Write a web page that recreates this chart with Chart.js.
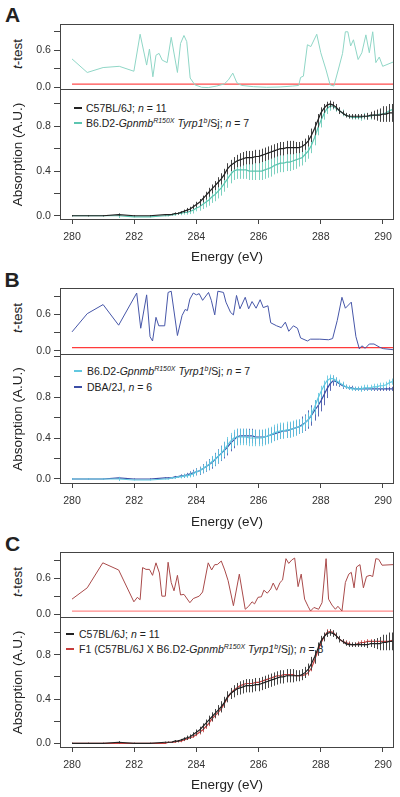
<!DOCTYPE html>
<html>
<head>
<meta charset="utf-8">
<script src="https://cdn.jsdelivr.net/npm/chart.js@4.4.1/dist/chart.umd.min.js"></script>
<style>
  body { margin: 0; background: #fff; }
  #fig { position: relative; width: 400px; height: 797px; overflow: hidden;
         font-family: "Liberation Sans", Arial, sans-serif; color: #222; }
  #fig canvas { position: absolute; left: 0; }
  .lab { position: absolute; font-weight: bold; font-size: 21px; line-height: 21px; }
  .ylab { position: absolute; font-size: 13.5px; white-space: nowrap;
          transform: translate(-50%, -50%) rotate(-90deg); }
  .leg { position: absolute; font-size: 10.5px; line-height: 12px; white-space: nowrap; }
  .leg .k { position: absolute; top: 5px; width: 8px; height: 2px; }
  .leg sup { font-size: 7px; font-style: italic; line-height: 0; vertical-align: 4px; }
</style>
</head>
<body>
<div id="fig">
  <div class="lab" style="left:5px; top:4px">A</div>
  <div class="lab" style="left:4.5px; top:269px">B</div>
  <div class="lab" style="left:5px; top:532.5px">C</div>

  <div class="ylab" style="left:17px; top:54px"><i>t</i>-test</div>
  <div class="ylab" style="left:17px; top:318px"><i>t</i>-test</div>
  <div class="ylab" style="left:17px; top:582px"><i>t</i>-test</div>

  <div class="leg" style="left:0; top:102px"><span class="k" style="left:74px; background:#222"></span><span style="position:absolute; left:86px">C57BL/6J; <i>n</i> = 11</span></div>
  <div class="leg" style="left:0; top:117px"><span class="k" style="left:74px; background:#5cc5b0"></span><span style="position:absolute; left:86px">B6.D2-<i>Gpnmb</i><sup>R150X</sup> <i>Tyrp1</i><sup>b</sup>/Sj; <i>n</i> = 7</span></div>

  <div class="leg" style="left:0; top:364.5px"><span class="k" style="left:74px; background:#62c8e0"></span><span style="position:absolute; left:87px">B6.D2-<i>Gpnmb</i><sup>R150X</sup> <i>Tyrp1</i><sup>b</sup>/Sj; <i>n</i> = 7</span></div>
  <div class="leg" style="left:0; top:380.5px"><span class="k" style="left:74px; background:#3c4ea6"></span><span style="position:absolute; left:87px">DBA/2J, <i>n</i> = 6</span></div>

  <div class="leg" style="left:0; top:627.5px"><span class="k" style="left:66px; background:#222"></span><span style="position:absolute; left:79px">C57BL/6J; <i>n</i> = 11</span></div>
  <div class="leg" style="left:0; top:642.5px"><span class="k" style="left:66px; background:#c63c3c"></span><span style="position:absolute; left:79px">F1 (C57BL/6J X B6.D2-<i>Gpnmb</i><sup>R150X</sup> <i>Tyrp1</i><sup>b</sup>/Sj); <i>n</i> = 8</span></div>
</div>

<script>
// energy grid of the spectra (eV)
const energy = [280, 280.5, 281, 281.5, 282, 282.5,
  283.0, 283.1, 283.2, 283.3, 283.4, 283.5, 283.6, 283.7, 283.8, 283.9,
  284.0, 284.1, 284.2, 284.3, 284.4, 284.5, 284.6, 284.7, 284.8, 284.9,
  285.0, 285.1, 285.2, 285.3, 285.4, 285.5, 285.6, 285.7, 285.8, 285.9,
  286.0, 286.1, 286.2, 286.3, 286.4, 286.5, 286.6, 286.7, 286.8, 286.9,
  287.0, 287.1, 287.2, 287.3, 287.4, 287.5, 287.6, 287.7, 287.8, 287.9,
  288.0, 288.1, 288.2, 288.3, 288.4, 288.5, 288.6, 288.7, 288.8, 288.9,
  289.0, 289.1, 289.2, 289.3, 289.4, 289.5, 289.6, 289.7, 289.8, 289.9,
  290.0, 290.1, 290.2, 290.3];

// C57BL/6J, n = 11
const b6Mean = [0.00, 0.00, 0.00, 0.01, 0.00, 0.00,
  0.01, 0.01, 0.01, 0.02, 0.02, 0.03, 0.04, 0.05, 0.06, 0.08,
  0.10, 0.12, 0.15, 0.18, 0.21, 0.24, 0.27, 0.30, 0.33, 0.37,
  0.42, 0.45, 0.47, 0.49, 0.50, 0.51, 0.52, 0.52, 0.52, 0.53,
  0.53, 0.54, 0.55, 0.56, 0.57, 0.58, 0.59, 0.60, 0.60, 0.61,
  0.61, 0.61, 0.61, 0.61, 0.62, 0.64, 0.67, 0.72, 0.78, 0.85,
  0.92, 0.96, 0.99, 1.00, 0.99, 0.97, 0.94, 0.92, 0.90, 0.89,
  0.89, 0.89, 0.89, 0.89, 0.89, 0.89, 0.90, 0.90, 0.90, 0.90,
  0.91, 0.91, 0.92, 0.92];
const b6Err = [0.005, 0.005, 0.005, 0.01, 0.005, 0.005,
  0.005, 0.005, 0.005, 0.01, 0.01, 0.01, 0.015, 0.02, 0.02, 0.02,
  0.025, 0.03, 0.03, 0.035, 0.04, 0.04, 0.04, 0.045, 0.05, 0.05,
  0.05, 0.05, 0.055, 0.055, 0.06, 0.06, 0.06, 0.06, 0.06, 0.06,
  0.06, 0.06, 0.06, 0.06, 0.06, 0.06, 0.06, 0.06, 0.06, 0.06,
  0.06, 0.06, 0.05, 0.05, 0.05, 0.05, 0.05, 0.06, 0.06, 0.06,
  0.05, 0.04, 0.03, 0.03, 0.03, 0.03, 0.03, 0.02, 0.02, 0.02,
  0.02, 0.02, 0.02, 0.02, 0.02, 0.03, 0.03, 0.04, 0.05, 0.06,
  0.07, 0.07, 0.08, 0.08];

// B6.D2-Gpnmb R150X Tyrp1 b /Sj, n = 7
const d2Mean = [0.00, 0.00, 0.00, 0.00, -0.01, -0.01,
  0.00, 0.00, 0.01, 0.01, 0.02, 0.02, 0.03, 0.03, 0.04, 0.05,
  0.07, 0.08, 0.10, 0.12, 0.14, 0.17, 0.19, 0.22, 0.25, 0.29,
  0.33, 0.37, 0.40, 0.41, 0.41, 0.41, 0.41, 0.40, 0.40, 0.40,
  0.40, 0.40, 0.41, 0.42, 0.43, 0.45, 0.46, 0.47, 0.47, 0.48,
  0.48, 0.49, 0.50, 0.51, 0.52, 0.55, 0.58, 0.63, 0.70, 0.78,
  0.85, 0.91, 0.96, 0.98, 0.98, 0.96, 0.94, 0.92, 0.90, 0.89,
  0.88, 0.88, 0.88, 0.88, 0.89, 0.89, 0.89, 0.90, 0.90, 0.91,
  0.91, 0.92, 0.94, 0.95];
const d2Err = [0.005, 0.005, 0.005, 0.02, 0.005, 0.005,
  0.005, 0.005, 0.01, 0.01, 0.01, 0.015, 0.02, 0.02, 0.025, 0.03,
  0.03, 0.035, 0.04, 0.045, 0.05, 0.055, 0.06, 0.065, 0.07, 0.075,
  0.08, 0.08, 0.08, 0.08, 0.08, 0.08, 0.08, 0.08, 0.08, 0.08,
  0.08, 0.08, 0.08, 0.08, 0.08, 0.08, 0.08, 0.08, 0.08, 0.08,
  0.08, 0.08, 0.08, 0.07, 0.07, 0.07, 0.07, 0.07, 0.07, 0.06,
  0.06, 0.05, 0.05, 0.04, 0.03, 0.03, 0.03, 0.03, 0.02, 0.02,
  0.02, 0.02, 0.02, 0.03, 0.03, 0.03, 0.03, 0.03, 0.03, 0.03,
  0.03, 0.03, 0.03, 0.03];

// DBA/2J, n = 6
const dbaMean = [0.00, 0.00, 0.00, 0.01, 0.00, 0.00,
  0.01, 0.01, 0.01, 0.02, 0.02, 0.03, 0.03, 0.04, 0.05, 0.06,
  0.07, 0.08, 0.10, 0.12, 0.14, 0.16, 0.19, 0.22, 0.25, 0.28,
  0.31, 0.35, 0.38, 0.41, 0.42, 0.42, 0.42, 0.42, 0.42, 0.41,
  0.41, 0.41, 0.41, 0.42, 0.43, 0.44, 0.45, 0.46, 0.47, 0.47,
  0.48, 0.49, 0.50, 0.51, 0.53, 0.55, 0.58, 0.62, 0.67, 0.71,
  0.76, 0.82, 0.88, 0.93, 0.96, 0.95, 0.93, 0.91, 0.90, 0.89,
  0.89, 0.88, 0.88, 0.88, 0.88, 0.88, 0.88, 0.88, 0.88, 0.88,
  0.88, 0.88, 0.88, 0.88];
const dbaErr = [0.005, 0.005, 0.005, 0.01, 0.005, 0.005,
  0.005, 0.005, 0.01, 0.01, 0.01, 0.015, 0.02, 0.02, 0.025, 0.03,
  0.035, 0.04, 0.045, 0.05, 0.055, 0.06, 0.065, 0.07, 0.075, 0.08,
  0.08, 0.08, 0.08, 0.08, 0.07, 0.07, 0.07, 0.07, 0.07, 0.07,
  0.07, 0.07, 0.07, 0.07, 0.07, 0.07, 0.07, 0.07, 0.07, 0.07,
  0.07, 0.07, 0.07, 0.07, 0.08, 0.08, 0.09, 0.10, 0.10, 0.10,
  0.10, 0.10, 0.09, 0.07, 0.05, 0.04, 0.03, 0.03, 0.02, 0.02,
  0.02, 0.02, 0.02, 0.02, 0.02, 0.02, 0.02, 0.02, 0.02, 0.02,
  0.02, 0.02, 0.02, 0.02];

// F1 (C57BL/6J X B6.D2), n = 8
const f1Mean = [0.00, 0.00, 0.00, 0.00, 0.00, 0.00,
  0.00, 0.01, 0.01, 0.01, 0.02, 0.02, 0.03, 0.04, 0.05, 0.06,
  0.08, 0.10, 0.12, 0.15, 0.18, 0.22, 0.25, 0.28, 0.31, 0.36,
  0.41, 0.45, 0.48, 0.50, 0.52, 0.53, 0.54, 0.54, 0.54, 0.55,
  0.55, 0.56, 0.57, 0.58, 0.59, 0.60, 0.61, 0.61, 0.62, 0.62,
  0.62, 0.62, 0.61, 0.61, 0.61, 0.62, 0.64, 0.68, 0.75, 0.83,
  0.90, 0.96, 1.00, 1.01, 1.00, 0.97, 0.94, 0.92, 0.91, 0.90,
  0.89, 0.89, 0.90, 0.91, 0.91, 0.92, 0.92, 0.92, 0.92, 0.92,
  0.92, 0.92, 0.92, 0.93];
const f1Err = [0.005, 0.005, 0.005, 0.005, 0.005, 0.005,
  0.005, 0.005, 0.005, 0.005, 0.01, 0.01, 0.01, 0.01, 0.01, 0.01,
  0.015, 0.02, 0.02, 0.02, 0.025, 0.025, 0.025, 0.03, 0.03, 0.03,
  0.03, 0.03, 0.03, 0.03, 0.03, 0.03, 0.03, 0.03, 0.03, 0.03,
  0.03, 0.03, 0.03, 0.03, 0.03, 0.03, 0.03, 0.03, 0.03, 0.03,
  0.03, 0.03, 0.03, 0.03, 0.03, 0.03, 0.03, 0.03, 0.03, 0.03,
  0.03, 0.03, 0.03, 0.02, 0.02, 0.02, 0.02, 0.02, 0.02, 0.02,
  0.02, 0.02, 0.02, 0.02, 0.02, 0.02, 0.02, 0.02, 0.02, 0.02,
  0.02, 0.02, 0.02, 0.02];

// t-test p values
const tA_x = [280.0, 280.49, 281.0, 281.52, 281.99, 282.19, 282.4, 282.49, 282.6, 282.7,
  282.8, 282.9, 283.06, 283.19, 283.39, 283.49, 283.6, 283.69, 283.8, 283.95,
  284.17, 284.38, 284.65, 284.9, 285.03, 285.17, 285.3, 285.45, 285.83, 286.26,
  286.69, 287.1, 287.29, 287.35, 287.44, 287.57, 287.68, 287.87, 288.0, 288.17,
  288.3, 288.42, 288.56, 288.7, 288.79, 288.87, 288.96, 289.05, 289.2, 289.32,
  289.45, 289.56, 289.67, 289.77, 289.88, 289.99, 290.33];
const tA_p = [0.46, 0.24, 0.32, 0.34, 0.26, 0.86, 0.36, 0.62, 0.17, 0.52,
  0.55, 0.44, 0.40, 0.81, 0.24, 0.71, 0.84, 0.74, 0.15, 0.04,
  0.00, -0.005, 0.02, 0.055, 0.12, 0.23, 0.075, 0.03, 0.01, 0.00,
  0.005, 0.02, 0.03, 0.16, 0.18, 0.69, 0.66, 0.86, 0.56, 0.28,
  0.04, 0.02, 0.28, 0.55, 0.90, 0.90, 0.67, 0.77, 0.45, 0.56,
  0.85, 0.56, 0.90, 0.40, 0.49, 0.34, 0.41];

const tB_x = [280.0, 280.49, 281.0, 281.5, 282.08, 282.21, 282.4, 282.51, 282.59, 282.7,
  282.79, 282.98, 283.09, 283.19, 283.39, 283.54, 283.64, 283.71, 283.79, 283.9,
  284.0, 284.09, 284.2, 284.39, 284.48, 284.59, 284.69, 284.87, 284.95, 285.1,
  285.19, 285.29, 285.4, 285.57, 285.68, 285.79, 285.92, 286.05, 286.15, 286.3,
  286.39, 286.58, 286.73, 286.86, 286.97, 287.12, 287.25, 287.35, 287.57, 287.67,
  287.97, 288.25, 288.38, 288.53, 288.68, 288.79, 288.98, 289.13, 289.24, 289.32,
  289.43, 289.56, 289.71, 289.9, 290.01, 290.33];
const tB_p = [0.31, 0.61, 0.76, 0.42, 0.95, 0.37, 0.92, 0.23, 0.16, 0.55,
  0.41, 0.41, 0.96, 0.98, 0.25, 0.58, 0.68, 0.66, 0.85, 0.95,
  0.92, 0.94, 0.83, 0.96, 0.83, 0.59, 0.98, 0.96, 0.80, 0.63,
  0.59, 0.91, 0.69, 0.88, 0.69, 0.81, 0.70, 0.84, 0.71, 0.74,
  0.46, 0.41, 0.38, 0.47, 0.32, 0.41, 0.37, 0.21, 0.16, 0.19,
  0.19, 0.18, 0.20, 0.50, 0.88, 0.70, 0.80, 0.23, 0.03, 0.08,
  0.04, 0.11, 0.11, 0.055, 0.034, 0.016];

const tC_x = [280.0, 280.49, 280.99, 281.5, 281.99, 282.1, 282.19, 282.27, 282.38, 282.49,
  282.59, 282.7, 282.81, 282.89, 283.0, 283.09, 283.19, 283.28, 283.39, 283.49,
  283.6, 283.79, 283.9, 284.09, 284.2, 284.38, 284.49, 284.59, 284.67, 284.8,
  284.91, 285.02, 285.19, 285.38, 285.57, 285.68, 285.79, 285.87, 285.98, 286.09,
  286.17, 286.28, 286.39, 286.47, 286.58, 286.69, 286.77, 286.88, 286.97, 287.07,
  287.16, 287.27, 287.37, 287.48, 287.59, 287.67, 287.78, 287.93, 288.04, 288.17,
  288.25, 288.36, 288.47, 288.55, 288.68, 288.79, 288.9, 288.98, 289.07, 289.15,
  289.26, 289.37, 289.47, 289.58, 289.67, 289.77, 289.86, 289.97, 290.33];
const tC_p = [0.25, 0.44, 0.86, 0.74, 0.205, 0.28, 0.24, 0.78, 0.75, 0.75,
  0.65, 0.86, 0.69, 0.30, 0.30, 0.87, 0.53, 0.39, 0.65, 0.32,
  0.33, 0.19, 0.26, 0.30, 0.37, 0.86, 0.74, 0.83, 0.83, 0.89,
  0.74, 0.56, 0.14, 0.67, 0.08, 0.13, 0.205, 0.17, 0.28, 0.29,
  0.40, 0.35, 0.42, 0.52, 0.40, 0.53, 0.57, 0.93, 0.85, 0.91,
  0.94, 0.46, 0.67, 0.25, 0.13, 0.05, 0.11, 0.08, 0.19, 0.93,
  0.25, 0.15, 0.08, 0.13, 0.05, 0.53, 0.67, 0.70, 0.44, 0.79,
  0.83, 0.44, 0.63, 0.65, 0.63, 0.93, 0.92, 0.82, 0.83];

const alpha = 0.05;  // significance threshold

// tick marks and labelled ticks
const xTicks = [280, 282, 284, 286, 288, 290];
const tTicks = [0, 0.1, 0.2, 0.3, 0.4, 0.5, 0.6, 0.7, 0.8, 0.9, 1.0];
const tLabels = [0, 0.6];
const absTicks = [0, 0.2, 0.4, 0.6, 0.8, 1.0];
const absTicksB = [0, 0.2, 0.4, 0.6, 0.8, 1.0, 1.2];
const absLabels = [0, 0.4, 0.8];

const FONT = '"Liberation Sans", Arial, sans-serif';
const X_MIN = 279.614, X_MAX = 290.354;

// draws a frame round the plot area
const boxPlugin = {
  id: 'box',
  afterDraw(chart) {
    const a = chart.chartArea, ctx = chart.ctx;
    ctx.save();
    ctx.strokeStyle = '#444';
    ctx.lineWidth = 1;
    ctx.strokeRect(Math.round(a.left) + 0.5, Math.round(a.top) + 0.5,
      Math.round(a.right - a.left) - 1, Math.round(a.bottom - a.top) - 1);
    ctx.restore();
  }
};

// vertical error bars, drawn just under each dataset's own line
const errPlugin = {
  id: 'errbars',
  beforeDatasetDraw(chart, args) {
    const ds = chart.data.datasets[args.index];
    if (!ds.errors) return;
    const xs = chart.scales.x, ys = chart.scales.y, a = chart.chartArea, ctx = chart.ctx;
    ctx.save();
    ctx.beginPath();
    ctx.rect(a.left, a.top, a.right - a.left, a.bottom - a.top);
    ctx.clip();
    ctx.strokeStyle = ds.errColor;
    ctx.lineWidth = 1;
    ctx.beginPath();
    ds.data.forEach((p, i) => {
      const px = Math.round(xs.getPixelForValue(p.x)) + 0.5;
      ctx.moveTo(px, ys.getPixelForValue(p.y - ds.errors[i]));
      ctx.lineTo(px, ys.getPixelForValue(p.y + ds.errors[i]));
    });
    ctx.stroke();
    ctx.restore();
  }
};

function pts(xs, ys) {
  return xs.map((x, i) => ({ x: x, y: ys[i] }));
}

function yAxis(min, max, ticks, labels, title) {
  return {
    type: 'linear', min: min, max: max,
    afterFit: s => { s.width = 60; },
    afterBuildTicks: s => { s.ticks = ticks.map(v => ({ value: v })); },
    border: { display: false },
    grid: { drawOnChartArea: false, tickLength: 6, color: '#444' },
    ticks: { padding: 3, color: '#333', font: { family: FONT, size: 10.6 },
      callback: v => labels.includes(v) ? v.toFixed(1) : '' },
    title: title ? { display: true, text: title, color: '#222',
      font: { family: FONT, size: 13.5 }, padding: { top: 10, bottom: 0 } } : { display: false }
  };
}

function makeCanvas(top, height) {
  const c = document.createElement('canvas');
  c.width = 400; c.height = height;
  c.style.top = top + 'px';
  document.getElementById('fig').appendChild(c);
  return c;
}

function tTestChart(top, ymin, ymax, xs, ps, color, redColor) {
  // the frame's bottom edge lands on the absorption frame's top edge
  const c = makeCanvas(top.canvas, top.height);
  new Chart(c, {
    type: 'line',
    data: { datasets: [
      { data: pts(xs, ps), borderColor: color, borderWidth: 1 },
      { data: pts([xs[0], xs[xs.length - 1]], [alpha, alpha]), borderColor: redColor, borderWidth: 1.2 }
    ] },
    options: {
      responsive: false, animation: false, devicePixelRatio: 1,
      layout: { padding: { top: 12, right: 6, bottom: 11, left: 0 } },
      elements: { point: { radius: 0 }, line: { tension: 0 } },
      plugins: { legend: { display: false }, tooltip: { enabled: false } },
      scales: {
        x: { type: 'linear', min: X_MIN, max: X_MAX, display: false },
        y: yAxis(ymin, ymax, tTicks, tLabels)
      }
    },
    plugins: [boxPlugin]
  });
}

function absChart(top, ymin, ymax, ticks, series, axisH) {
  const c = makeCanvas(top.canvas, top.height);
  new Chart(c, {
    type: 'line',
    data: { datasets: series.map(s => ({
      data: pts(energy, s.mean), errors: s.err, errColor: s.errColor,
      borderColor: s.color, borderWidth: 1.2
    })) },
    options: {
      responsive: false, animation: false, devicePixelRatio: 1,
      layout: { padding: { top: 12, right: 6, bottom: 0, left: 0 } },
      elements: { point: { radius: 0 }, line: { tension: 0 } },
      plugins: { legend: { display: false }, tooltip: { enabled: false } },
      scales: {
        x: {
          type: 'linear', min: X_MIN, max: X_MAX,
          afterFit: s => { s.height = axisH; },
          afterBuildTicks: s => { s.ticks = xTicks.map(v => ({ value: v })); },
          border: { display: false },
          grid: { drawOnChartArea: false, tickLength: 4, color: '#444' },
          ticks: { padding: 7, color: '#333', maxRotation: 0, autoSkip: false,
            font: { family: FONT, size: 10.6 } },
          title: { display: true, text: 'Energy (eV)', color: '#222',
            font: { family: FONT, size: 13.5 }, padding: 0 }
        },
        y: yAxis(ymin, ymax, ticks, absLabels, 'Absorption (A.U.)')
      }
    },
    plugins: [boxPlugin, errPlugin]
  });
}

const black = { mean: b6Mean, err: b6Err, color: '#222', errColor: '#444' };

// Panel A
tTestChart({ canvas: 12, height: 89 }, -0.044, 1.026, tA_x, tA_p, '#8fd6c6', '#ff4b4b');
absChart({ canvas: 77, height: 188 }, -0.038, 1.134, absTicks, [
  black,
  { mean: d2Mean, err: d2Err, color: '#5cc5b0', errColor: 'rgba(92,197,176,0.8)' }
], 45);

// Panel B
tTestChart({ canvas: 276, height: 90 }, -0.071, 1.033, tB_x, tB_p, '#4656a8', '#ff3b3b');
absChart({ canvas: 342, height: 188 }, -0.049, 1.22, absTicksB, [
  { mean: d2Mean, err: d2Err, color: '#62c8e0', errColor: 'rgba(98,200,224,0.85)' },
  { mean: dbaMean, err: dbaErr, color: '#3c4ea6', errColor: 'rgba(60,78,166,0.85)' }
], 46);

// Panel C
tTestChart({ canvas: 540, height: 89 }, -0.067, 1.042, tC_x, tC_p, '#a94a4a', '#ff8a8a');
absChart({ canvas: 605, height: 188 }, -0.042, 1.14, absTicks, [
  black,
  { mean: f1Mean, err: f1Err, color: '#c63c3c', errColor: 'rgba(208,80,80,0.9)' }
], 45);
</script>
</body>
</html>
